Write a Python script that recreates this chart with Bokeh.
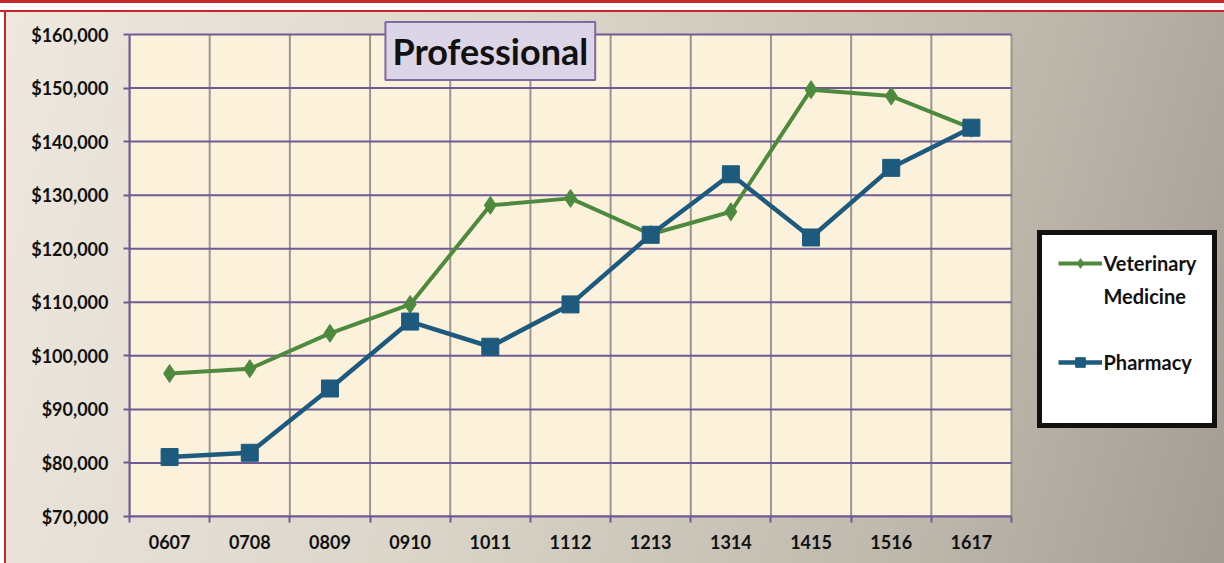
from bokeh.plotting import figure
from bokeh.models import (Range1d, FixedTicker, NumeralTickFormatter, Label, Legend,
                          LegendItem, BoxAnnotation)
from bokeh.embed import file_html
from bokeh.resources import INLINE

years = ["0607", "0708", "0809", "0910", "1011", "1112", "1213", "1314", "1415", "1516", "1617"]
vet_medicine = [96700, 97600, 104200, 109600, 128100, 129400, 122700, 126900, 149700, 148500, 142500]
pharmacy = [81100, 81900, 93900, 106400, 101700, 109600, 122600, 133900, 122100, 135100, 142600]
y_ticks = [70000, 80000, 90000, 100000, 110000, 120000, 130000, 140000, 150000, 160000]
title_text = "Professional"
legend_labels = ["Veterinary", "Medicine", "Pharmacy"]

FONT = "Lato"
PURPLE = "#6e5a94"
GRAY = "#9a9592"
GREEN = "#4e8a3d"
BLUE = "#1d5a7e"
RED = "#c4282c"

# layout (pixels): plot area 129..1011 x, 34..516 y in a 1224x563 canvas
W, H = 1224, 563
PL, PR, PT, PB = 129, 1011, 34, 516

n = len(years)
xs = list(range(n))
bounds = [i - 0.5 for i in range(n + 1)]
x0, x1 = bounds[0], bounds[-1]
y0, y1 = y_ticks[0], y_ticks[-1]
px_per_x = (PR - PL) / (x1 - x0)
px_per_y = (PB - PT) / (y1 - y0)

p = figure(width=W, height=H, output_backend="svg", toolbar_location=None,
           x_range=Range1d(x0, x1 + (W - PR) / px_per_x),
           y_range=Range1d(y0, y1 + PT / px_per_y),
           min_border_left=PL, min_border_right=0, min_border_top=0, min_border_bottom=H - PB)

p.border_fill_alpha = 0
p.background_fill_alpha = 0
p.outline_line_color = None
p.styles = {
    "background": "linear-gradient(105deg, #eee8df 0%, #dcd5ca 40%, #bdb6ab 78%, #a29c92 100%)",
    "box-shadow": (f"inset 0 3px 0 0 {RED}, inset 0 10px 0 0 #ffffff, inset 0 12px 0 0 {RED}, "
                   f"inset 4px 0 0 0 #ffffff, inset 6px 0 0 0 {RED}"),
}
p.xgrid.grid_line_color = None
p.ygrid.grid_line_color = None

# plot area background
p.add_layout(BoxAnnotation(left=x0, right=x1, bottom=y0, top=y1, fill_color="#fcf2dc",
                           fill_alpha=1, line_color=None, level="underlay"))

# grid lines (bounded to the plot area)
p.segment(x0=bounds, y0=[y0] * len(bounds), x1=bounds, y1=[y1] * len(bounds),
          line_color=GRAY, line_width=2)
p.segment(x0=[x0] * len(y_ticks), y0=y_ticks, x1=[x1] * len(y_ticks), y1=y_ticks,
          line_color=PURPLE, line_width=2)

# axes
xa = p.xaxis[0]
xa.bounds = (x0, x1)
xa.ticker = FixedTicker(ticks=xs, minor_ticks=bounds)
xa.major_label_overrides = {i: y for i, y in enumerate(years)}
xa.major_tick_line_color = None
xa.minor_tick_line_color = PURPLE
xa.minor_tick_line_width = 2
xa.minor_tick_out = 6
xa.minor_tick_in = 0
xa.axis_line_color = PURPLE
xa.axis_line_width = 2
xa.major_label_standoff = 12
xa.major_label_text_font = FONT
xa.major_label_text_font_style = "bold"
xa.major_label_text_font_size = "18px"
xa.major_label_text_color = "#111111"

ya = p.yaxis[0]
ya.bounds = (y0, y1)
ya.ticker = FixedTicker(ticks=y_ticks)
ya.formatter = NumeralTickFormatter(format="$0,0")
ya.major_tick_line_color = PURPLE
ya.major_tick_line_width = 2
ya.major_tick_out = 6
ya.major_tick_in = 0
ya.minor_tick_line_color = None
ya.axis_line_color = PURPLE
ya.axis_line_width = 2
ya.major_label_standoff = 15
ya.major_label_text_font = FONT
ya.major_label_text_font_style = "bold"
ya.major_label_text_font_size = "18px"
ya.major_label_text_color = "#111111"

# series
gl = p.line(xs, vet_medicine, line_color=GREEN, line_width=4)
gm = p.scatter(xs, vet_medicine, marker="diamond", size=18, fill_color=GREEN, line_color=GREEN)
bl = p.line(xs, pharmacy, line_color=BLUE, line_width=4.5)
bm = p.scatter(xs, pharmacy, marker="square", size=17, fill_color=BLUE, line_color=BLUE)
blank = p.scatter(x=[], y=[], size=0, fill_alpha=0, line_alpha=0)

legend = Legend(items=[LegendItem(label=legend_labels[0], renderers=[gl, gm]),
                       LegendItem(label=legend_labels[1], renderers=[blank]),
                       LegendItem(label=" ", renderers=[blank]),
                       LegendItem(label=legend_labels[2], renderers=[bl, bm]),
                       LegendItem(label=" ", renderers=[blank])],
                location=(1036.5 - PL, PB - 427.5), orientation="vertical",
                border_line_color="#111111", border_line_width=5, border_line_alpha=1,
                background_fill_color="#ffffff", background_fill_alpha=1,
                label_text_font=FONT, label_text_font_style="bold", label_text_font_size="20px",
                label_text_color="#111111", glyph_width=44, glyph_height=24, label_height=24,
                label_standoff=2, padding=16, spacing=9, margin=0)
p.add_layout(legend, "center")

title = Label(x=4.0, y=y1 - (50.5 - PT) / px_per_y, text=title_text,
              text_align="center", text_baseline="middle",
              text_font=FONT, text_font_style="bold", text_font_size="36px", text_color="#111111",
              background_fill_color="#dcd5e8", background_fill_alpha=1,
              border_line_color="#8068a0", border_line_width=2, padding=7)
p.add_layout(title)

open("out.html", "w").write(file_html(p, INLINE))
